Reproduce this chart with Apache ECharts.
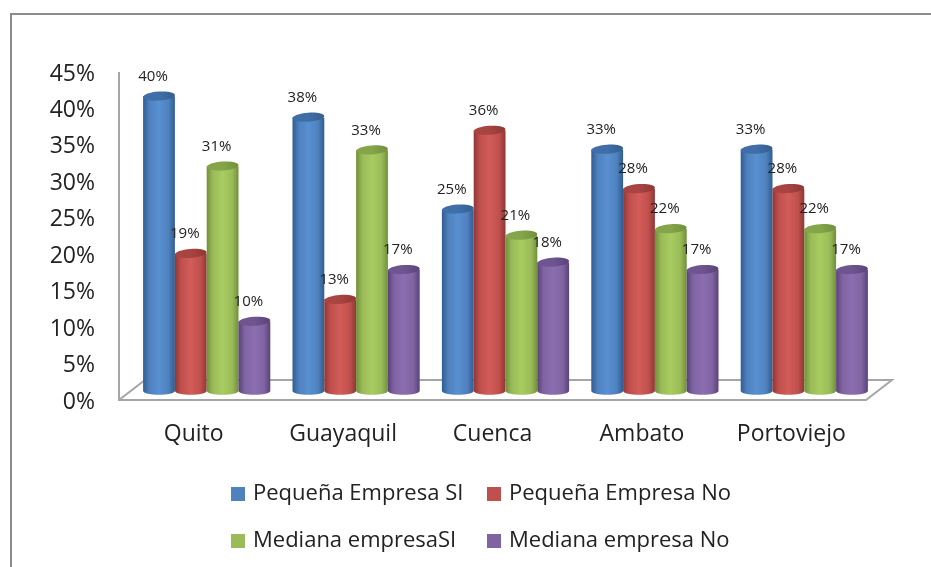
<!DOCTYPE html>
<html><head><meta charset="utf-8">
<style>html,body{margin:0;padding:0;background:#fff}#c{width:931px;height:567px}</style>
<script src="https://cdn.jsdelivr.net/npm/echarts@6/dist/echarts.min.js"></script>
</head><body><div id="c"></div>
<script>
const categories = ['Quito','Guayaquil','Cuenca','Ambato','Portoviejo'];
const seriesNames = ['Pequeña Empresa SI','Pequeña Empresa No','Mediana empresaSI','Mediana empresa No'];
const pequenaSi = [40.4,37.5,24.9,33.1,33.1];
const pequenaNo = [18.8,12.5,35.7,27.7,27.7];
const medianaSi = [30.8,33,21.3,22.2,22.2];
const medianaNo = [9.5,16.6,17.6,16.6,16.6];
const colors = [
  {main:'#4f81bd',light:'#5890d2',dark:'#2f5c92',cap:'#3f6ea8',capD:'#34608f'},
  {main:'#c0504d',light:'#d25c58',dark:'#8f3735',cap:'#a84442',capD:'#8f3735'},
  {main:'#9bbb59',light:'#a8cc60',dark:'#70903a',cap:'#85a54a',capD:'#70903a'},
  {main:'#8064a2',light:'#8b6eb0',dark:'#5a4279',cap:'#6e5590',capD:'#5a4279'}
];
const allValues = [pequenaSi,pequenaNo,medianaSi,medianaNo];
const depthX = 13, depthY = 9.5, barW = 31.8, ry = 4.5;
const font = 'Open Sans';

function cylinder(si){
  return function(params, api){
    const cat = api.value(0), v = api.value(1);
    const top = api.coord([cat, v]), base = api.coord([cat, 0]);
    const cx = top[0] + depthX + (si-1.5)*barW;
    const x0 = cx-barW/2, x1 = cx+barW/2;
    const yT = top[1]-depthY, yB = base[1]-depthY;
    const c = colors[si];
    const grad = new echarts.graphic.LinearGradient(0,0,1,0,[
      {offset:0,color:c.dark},{offset:0.2,color:c.main},{offset:0.5,color:c.light},
      {offset:0.8,color:c.main},{offset:1,color:c.dark}]);
    const capGrad = new echarts.graphic.LinearGradient(0,0,1,0,[
      {offset:0,color:c.cap},{offset:0.5,color:c.cap},{offset:1,color:c.capD}]);
    const body = 'M'+x0+' '+yT+' L'+x0+' '+yB+
      ' C'+x0+' '+(yB+ry*1.2)+' '+x1+' '+(yB+ry*1.2)+' '+x1+' '+yB+
      ' L'+x1+' '+yT+' Z';
    return {type:'group',children:[
      {type:'path',shape:{pathData:body,layout:'center',x:x0,y:yT,width:barW,height:yB-yT+ry},style:{fill:grad}},
      {type:'ellipse',shape:{cx:cx,cy:yT,rx:barW/2,ry:ry},originX:cx,originY:yT,rotation:0.07,style:{fill:capGrad}},
      {type:'text',style:{text:Math.round(v)+'%',x:cx-6,y:yT-19.5,align:'center',verticalAlign:'middle',
        font:'15px "'+font+'"',fill:'#222'}}
    ]};
  };
}
function floor(params, api){
  const cs = params.coordSys;
  const a = api.coord([0,0]);
  const xL = cs.x, xR = cs.x+cs.width, yF = a[1], dx = 26, dy = 20;
  return {type:'polyline',shape:{points:[[xL,cs.y],[xL,yF],[xR,yF],[xR+dx,yF-dy],[xL+dx,yF-dy],[xL,yF]]},
    style:{fill:null,stroke:'#a6a6a6',lineWidth:2}};
}
const series = [{type:'custom',name:'_floor',renderItem:floor,data:[[0,0]],silent:true,z:1,encode:{x:0,y:1}}];
seriesNames.forEach((n,si)=>{
  series.push({type:'custom',name:n,renderItem:cylinder(si),z:2+si,
    itemStyle:{color:colors[si].main},
    data:categories.map((c,i)=>[i,allValues[si][i]]),encode:{x:0,y:1}});
});
const legendBase = {orient:'vertical',icon:'rect',itemWidth:14,itemHeight:14,itemGap:25,
  textStyle:{fontFamily:font,fontSize:22,color:'#222',padding:[0,0,0,3]}};
const chart = echarts.init(document.getElementById('c'),null,{renderer:'canvas'});
chart.setOption({
  animation:false,backgroundColor:'#fff',
  graphic:[{type:'polyline',z:0,shape:{points:[[11,567],[11,14],[931,14]]},style:{fill:null,stroke:'#8c8c8c',lineWidth:2}}],
  grid:{left:119,top:72,width:747,height:328,containLabel:false},
  xAxis:{type:'category',data:categories,axisLine:{show:false},axisTick:{show:false},
    axisLabel:{fontFamily:font,fontSize:23,color:'#222',margin:23}},
  yAxis:{type:'value',min:0,max:45,interval:5,splitLine:{show:false},axisLine:{show:false},axisTick:{show:false},
    axisLabel:{margin:24,formatter:'{a|{value}%}',
      rich:{a:{fontFamily:font,fontSize:23,color:'#222',padding:[4,0,0,0]}}}},
  legend:[
    Object.assign({},legendBase,{data:[seriesNames[0],seriesNames[2]],left:226,top:478}),
    Object.assign({},legendBase,{data:[seriesNames[1],seriesNames[3]],left:482,top:478})
  ],
  series
});
</script></body></html>
